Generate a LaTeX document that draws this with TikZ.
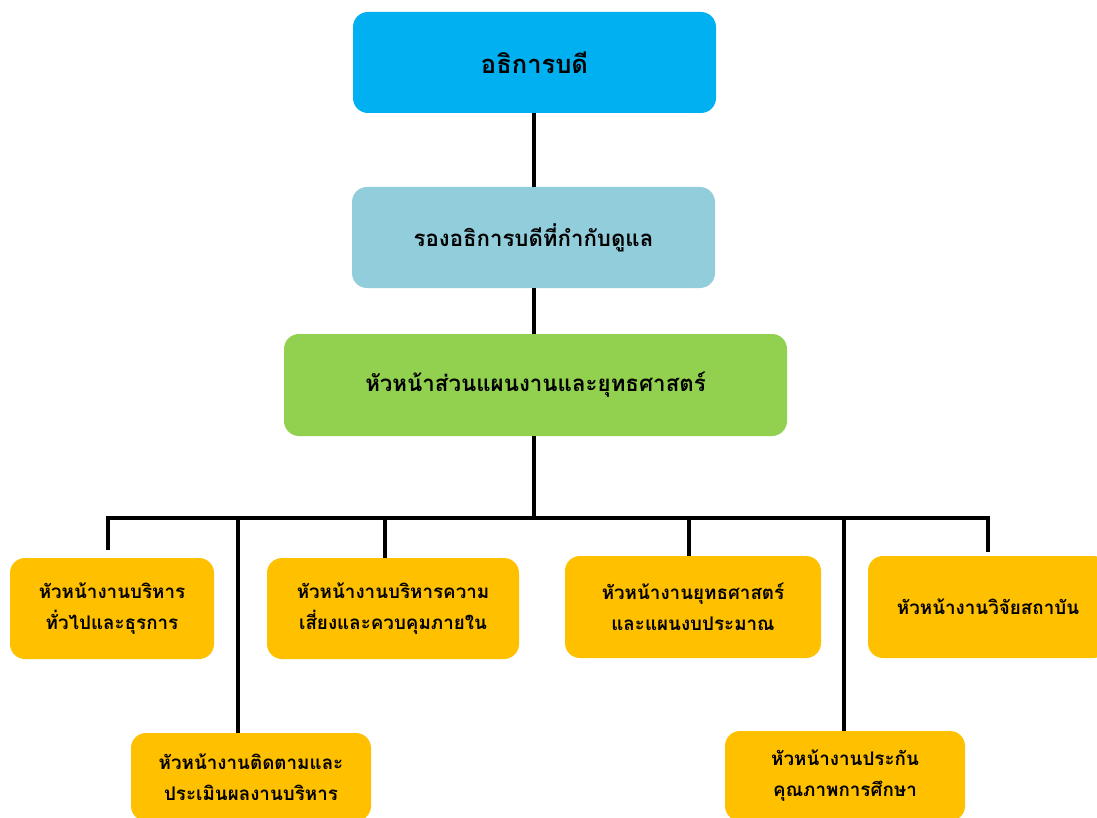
\documentclass[tikz,border=0pt]{standalone}
\usepackage{fontspec}
\setmainfont[Script=Thai]{Loma}
\definecolor{cblue}{HTML}{00B0F0}
\definecolor{clblue}{HTML}{92CDDC}
\definecolor{cgreen}{HTML}{92D050}
\definecolor{cyellow}{HTML}{FFC000}
\begin{document}
\begin{tikzpicture}[x=1pt,y=-1pt,
  box/.style={draw=none,rounded corners=15pt,inner sep=0pt,align=center,font=\bfseries},
  topbox/.style={box,fill=cblue,minimum width=363pt,minimum height=101pt,font=\bfseries\fontsize{25.5}{30}\selectfont},
  vpbox/.style={box,fill=clblue,minimum width=363pt,minimum height=101pt,font=\bfseries\fontsize{22.2}{26}\selectfont},
  headbox/.style={box,fill=cgreen,minimum width=503pt,minimum height=102pt,font=\bfseries\fontsize{22.3}{26}\selectfont},
  childbox/.style={box,fill=cyellow,minimum height=101pt,font=\bfseries\fontsize{18.8}{31}\selectfont},
  link/.style={line width=4pt,black,line join=miter}
]
\useasboundingbox (0,0) rectangle (1097,818);
\clip (0,0) rectangle (1097,818);
\node[topbox] (top) at (534.5,62.5) {อธิการบดี};
\node[vpbox] (vp) at (533.5,237.5) {รองอธิการบดีที่กำกับดูแล};
\node[headbox] (head) at (535.5,385) {หัวหน้าส่วนแผนงานและยุทธศาสตร์};
\node[childbox,minimum width=204pt] (c1) at (112,608.5) {หัวหน้างานบริหาร\\ทั่วไปและธุรการ};
\node[childbox,minimum width=240pt,minimum height=88pt] (c2) at (251,777) {หัวหน้างานติดตามและ\\ประเมินผลงานบริหาร};
\node[childbox,minimum width=252pt] (c3) at (393,608.5) {หัวหน้างานบริหารความ\\เสี่ยงและควบคุมภายใน};
\node[childbox,minimum width=256pt,minimum height=102pt] (c4) at (693,607) {หัวหน้างานยุทธศาสตร์\\และแผนงบประมาณ};
\node[childbox,minimum width=240pt,minimum height=90pt] (c5) at (845,776) {หัวหน้างานประกัน\\คุณภาพการศึกษา};
\node[childbox,minimum width=240pt,minimum height=102pt] (c6) at (988,607) {หัวหน้างานวิจัยสถาบัน};
\coordinate (bus) at (534,518);
\coordinate (bL) at (108,518);
\coordinate (bR) at (988,518);
\coordinate (e1) at (108,550);
\coordinate (e6) at (988,552);
\coordinate (j2) at (238,518);
\coordinate (j3) at (385,518);
\coordinate (j4) at (689,518);
\coordinate (j5) at (844,518);
\draw[link] (top.south -| bus) -- (vp.north -| bus);
\draw[link] (vp.south -| bus) -- (head.north -| bus);
\draw[link] (head.south -| bus) -- (bus);
\draw[link] (e1) -- (bL) -- (bR) -- (e6);
\draw[link] (j2) -- (j2 |- c2.north);
\draw[link] (j3) -- (j3 |- c3.north);
\draw[link] (j4) -- (j4 |- c4.north);
\draw[link] (j5) -- (j5 |- c5.north);
\end{tikzpicture}
\end{document}
